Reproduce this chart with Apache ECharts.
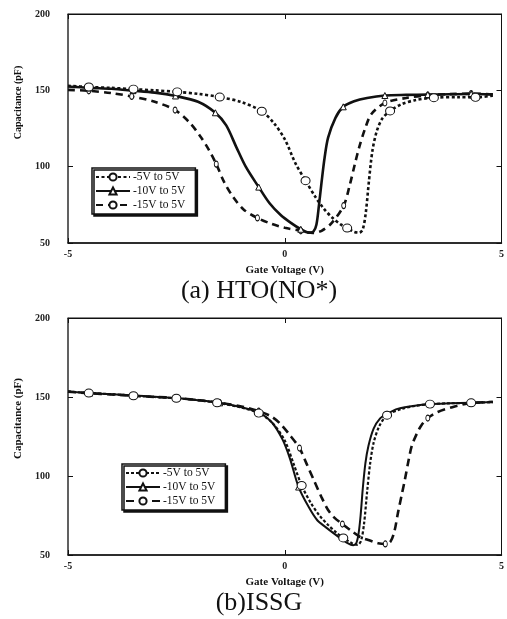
<!DOCTYPE html>
<html>
<head>
<meta charset="utf-8">
<script src="https://cdn.jsdelivr.net/npm/echarts@6/dist/echarts.min.js"></script>
<style>
  html, body { margin: 0; padding: 0; background: #fff; }
  #chart { width: 507px; height: 619px; }
</style>
</head>
<body>
<div id="chart"></div>
<script>
// C-V sweeps, gate voltage (V) vs capacitance (pF); third entry 1 = plotted symbol
const sweepNames = ['-5V to 5V', '-10V to 5V', '-15V to 5V'];
const xTicks = { min: -5, max: 5, step: 5 };
const yTicks = { min: 50, max: 200, step: 50 };

// (a) HTO(NO*)
const htoSweep5 = [
  [-5.0,153.0],[-4.52,152.2,1],[-4.0,151.6],[-3.49,150.8,1],[-3.0,150.0],[-2.48,149.0,1],
  [-2.0,147.7],[-1.5,145.6,1],[-1.0,142.3],[-0.53,136.3,1],[-0.25,128.5],[0.0,118.0],
  [0.25,102.0],[0.48,90.8,1],[0.7,80.5],[0.9,72.5],[1.1,66.5],[1.3,62.0],[1.44,59.8,1],
  [1.6,57.3],[1.72,56.8],[1.8,59.0],[1.87,70.0],[1.94,90.0],[2.02,110.0],[2.12,123.0],
  [2.25,131.5],[2.43,136.5,1],[2.7,141.0],[3.0,143.5],[3.44,145.2,1],[4.0,145.5],
  [4.4,145.4,1],[4.8,146.5]
];
const htoSweep10 = [
  [-5.0,152.5],[-4.5,151.6,1],[-4.0,151.0],[-3.5,149.8,1],[-3.0,148.5],[-2.52,146.3,1],
  [-2.0,142.5],[-1.6,135.3,1],[-1.35,127.0],[-1.12,113.0],[-0.9,100.0],[-0.6,86.6,1],
  [-0.35,76.0],[-0.1,68.5],[0.15,63.0],[0.37,59.0,1],[0.55,56.8],[0.66,57.5],[0.73,62.0],
  [0.79,75.0],[0.85,90.0],[0.92,106.0],[1.0,119.0],[1.17,132.0],[1.35,139.2,1],
  [1.6,142.8],[1.9,145.0],[2.31,146.6,1],[2.8,147.0],[3.3,147.2,1],[3.8,147.4],
  [4.3,147.6,1],[4.8,147.4]
];
const htoSweep15 = [
  [-5.0,150.3],[-4.52,149.7,1],[-4.0,148.2],[-3.53,146.0,1],[-3.0,142.5],[-2.53,137.1,1],
  [-2.2,129.0],[-1.95,120.0],[-1.75,111.0],[-1.58,101.7,1],[-1.4,90.0],[-1.2,80.5],
  [-0.95,72.0],[-0.63,66.4,1],[-0.3,62.5],[0.0,60.0],[0.37,58.0,1],[0.65,56.6],[0.85,58.0],
  [1.08,63.0],[1.36,74.5,1],[1.5,88.0],[1.62,102.0],[1.72,113.0],[1.86,125.5],[2.0,134.5],
  [2.31,141.7,1],[2.8,145.0],[3.3,146.8,1],[3.8,147.5],[4.3,147.9,1],[4.8,147.3]
];

// (b) ISSG
const issgSweep5 = [
  [-5.0,153.5],[-4.52,152.5,1],[-4.0,151.8],[-3.49,150.8,1],[-3.0,150.0],[-2.5,149.2,1],
  [-2.0,148.0],[-1.56,146.3,1],[-1.0,143.3],[-0.6,139.8,1],[-0.3,134.0],[0.0,122.5],
  [0.2,108.0],[0.39,94.0,1],[0.6,83.0],[0.8,75.0],[1.0,69.0],[1.2,64.0],[1.35,60.8,1],
  [1.55,57.5],[1.68,56.4],[1.76,59.0],[1.83,70.0],[1.9,90.0],[1.97,108.0],[2.05,121.0],
  [2.18,131.5],[2.36,138.5,1],[2.7,142.5],[3.0,144.3],[3.35,145.5,1],[3.8,146.0],
  [4.3,146.3,1],[4.8,146.8]
];
const issgSweep10 = [
  [-5.0,153.5],[-4.5,152.5,1],[-4.0,151.7],[-3.5,151.0,1],[-3.0,150.2],[-2.5,149.3,1],
  [-2.0,148.0],[-1.5,146.3,1],[-1.0,143.5],[-0.6,140.3,1],[-0.3,134.0],[-0.05,123.0],
  [0.12,111.0],[0.32,93.0,1],[0.55,80.5],[0.75,72.0],[0.95,67.5],[1.24,61.5],[1.45,57.5],
  [1.58,56.2],[1.65,57.5],[1.7,63.0],[1.75,75.0],[1.8,92.0],[1.86,108.0],[1.93,119.0],
  [2.05,130.0],[2.2,136.5],[2.36,139.3,1],[2.6,142.5],[3.0,144.5],[3.35,145.5,1],
  [3.8,146.0],[4.3,146.4,1],[4.8,146.8]
];
const issgSweep15 = [
  [-5.0,153.3],[-4.5,152.4,1],[-4.0,151.6],[-3.5,150.8,1],[-3.0,150.0],[-2.5,149.4,1],
  [-2.0,148.0],[-1.5,146.4,1],[-1.0,144.0],[-0.6,141.0,1],[-0.3,137.5],[-0.1,133.0],
  [0.1,126.5],[0.34,117.7,1],[0.5,108.0],[0.67,97.5],[0.85,86.5],[1.0,78.5],[1.15,73.5],
  [1.33,69.6,1],[1.55,65.0],[1.74,61.4],[1.95,59.3],[2.15,57.5],[2.32,57.0,1],[2.44,58.5],
  [2.53,65.0],[2.61,76.5],[2.69,87.0],[2.77,97.5],[2.85,109.0],[2.93,119.0],[3.05,127.0],
  [3.15,132.0],[3.3,136.7,1],[3.53,140.5],[3.92,144.0],[4.3,146.2,1],[4.8,146.9]
];

const captions = ['(a) HTO(NO*)', '(b)ISSG'];
const xName = 'Gate Voltage (V)';
const yName = 'Capacitance (pF)';

const INK = '#111';
const SERIF = '"Liberation Serif", "Times New Roman", serif';

const grids = [
  { left: 68, top: 14, width: 437, height: 229 },
  { left: 68, top: 318, width: 437, height: 237 }
];

function toData(pts) {
  return pts.map(p => p[2] ? { value: [p[0], p[1]] } : { value: [p[0], p[1]], symbol: 'none' });
}

// Per-panel line looks
const panelStyles = [
  [
    { type: [3, 2.5], width: 2.6, symbol: 'circle', size: [9, 8] },
    { type: 'solid', width: 2.6, symbol: 'triangle', size: 6 },
    { type: [7, 5], width: 2.6, symbol: 'circle', size: [4, 6] }
  ],
  [
    { type: [3, 2], width: 2.2, symbol: 'circle', size: [9, 8] },
    { type: 'solid', width: 2.0, symbol: 'triangle', size: 6 },
    { type: [8, 5], width: 2.6, symbol: 'circle', size: [4, 6] }
  ]
];

const panelData = [
  [htoSweep5, htoSweep10, htoSweep15],
  [issgSweep5, issgSweep10, issgSweep15]
];

const series = [];
panelData.forEach((group, gi) => {
  group.forEach((pts, si) => {
    const st = panelStyles[gi][si];
    series.push({
      type: 'line',
      name: sweepNames[si] + (gi === 1 ? ' ' : ''),
      xAxisIndex: gi * 2,
      yAxisIndex: gi * 2,
      data: toData(pts),
      smooth: 0.3,
      showAllSymbol: true,
      symbol: st.symbol,
      symbolSize: st.size,
      lineStyle: { color: INK, width: st.width, type: st.type },
      itemStyle: { color: '#fff', borderColor: INK, borderWidth: 1 },
      emphasis: { disabled: true },
      z: 3 - si
    });
  });
});

const xAxes = [], yAxes = [];
grids.forEach((g, gi) => {
  xAxes.push({
    type: 'value', gridIndex: gi, min: xTicks.min, max: xTicks.max, interval: xTicks.step,
    name: xName, nameLocation: 'middle', nameGap: 22,
    nameTextStyle: { fontFamily: SERIF, fontWeight: 'bold', fontSize: 11, color: INK },
    axisLine: { onZero: false, lineStyle: { color: INK, width: 1.5 } },
    axisTick: { inside: true, length: 5, lineStyle: { color: INK } },
    axisLabel: { margin: 6, fontFamily: SERIF, fontWeight: 'bold', fontSize: 10, color: '#222' },
    splitLine: { show: false }
  });
  xAxes.push({
    type: 'value', gridIndex: gi, position: 'top', min: xTicks.min, max: xTicks.max, interval: xTicks.step,
    axisLine: { onZero: false, lineStyle: { color: INK, width: 1 } },
    axisTick: { inside: true, length: 5, lineStyle: { color: INK } },
    axisLabel: { show: false }, splitLine: { show: false }
  });
  yAxes.push({
    type: 'value', gridIndex: gi, min: yTicks.min, max: yTicks.max, interval: yTicks.step,
    axisLine: { onZero: false, lineStyle: { color: '#555', width: 1.5 } },
    axisTick: { inside: true, length: 5, lineStyle: { color: INK } },
    axisLabel: { margin: 18, fontFamily: SERIF, fontWeight: 'bold', fontSize: 10, color: '#222' },
    splitLine: { show: false }
  });
  yAxes.push({
    type: 'value', gridIndex: gi, position: 'right', min: yTicks.min, max: yTicks.max, interval: yTicks.step,
    axisLine: { onZero: false, lineStyle: { color: INK, width: 1 } },
    axisTick: { inside: true, length: 5, lineStyle: { color: INK } },
    axisLabel: { show: false }, splitLine: { show: false }
  });
});

const legendBase = {
  orient: 'vertical',
  backgroundColor: '#fff',
  borderColor: INK,
  borderWidth: 1.5,
  borderRadius: 0,
  shadowColor: INK,
  shadowBlur: 0,
  shadowOffsetX: 2,
  shadowOffsetY: 2,
  padding: [3, 10, 3, 3],
  itemGap: 2,
  itemWidth: 34,
  itemHeight: 9,
  selectedMode: false,
  textStyle: { fontFamily: SERIF, fontSize: 11.5, color: INK, padding: [0, 0, 0, -2] }
};

const legends = [
  Object.assign({}, legendBase, { left: 92, top: 168, data: sweepNames }),
  Object.assign({}, legendBase, { left: 122, top: 464, data: sweepNames.map(n => n + ' '),
    formatter: n => n.trim() })
];

// axis titles on the left and panel captions
const yNameSpec = [ { dy: -26, size: 10 }, { dy: -18, size: 11 } ];
const graphics = [];
grids.forEach((g, gi) => {
  graphics.push({
    type: 'text', x: 18, y: g.top + g.height / 2 + yNameSpec[gi].dy, rotation: Math.PI / 2,
    style: { text: yName, fontFamily: SERIF, fontWeight: 'bold', fontSize: yNameSpec[gi].size, fill: INK,
             textAlign: 'center', textVerticalAlign: 'middle' }
  });
  graphics.push({
    type: 'text', x: 259, y: gi === 0 ? 291 : 603,
    style: { text: captions[gi], fontFamily: SERIF, fontSize: 26, fill: INK,
             textAlign: 'center', textVerticalAlign: 'middle' }
  });
});

const chart = echarts.init(document.getElementById('chart'), null, { renderer: 'canvas' });
chart.setOption({
  animation: false,
  backgroundColor: '#fff',
  grid: grids.map(g => Object.assign({ show: true, borderColor: INK, borderWidth: 1, backgroundColor: 'transparent' }, g)),
  xAxis: xAxes,
  yAxis: yAxes,
  legend: legends,
  series: series,
  graphic: graphics
});
</script>
</body>
</html>
